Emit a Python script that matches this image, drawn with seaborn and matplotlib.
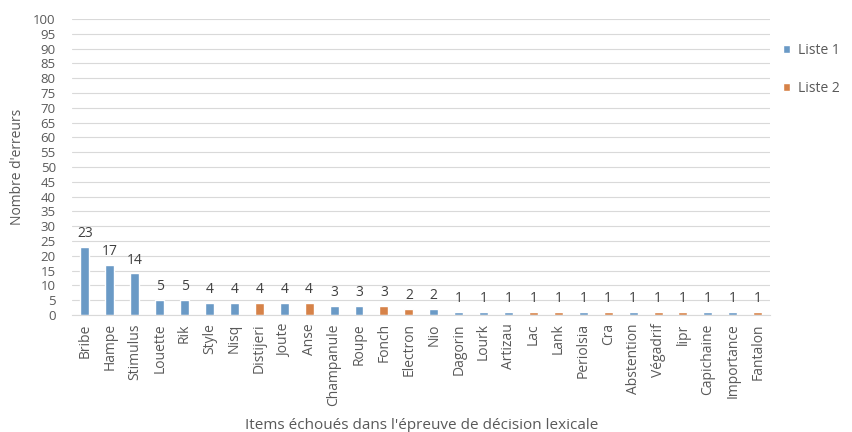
import pandas as pd
import matplotlib
matplotlib.use('Agg')
import matplotlib.pyplot as plt
import seaborn as sns

# Données
items = ['Bribe', 'Hampe', 'Stimulus', 'Louette', 'Rik', 'Style', 'Nisq', 'Distijeri',
         'Joute', 'Anse', 'Champanule', 'Roupe', 'Fonch', 'Electron', 'Nio', 'Dagorin',
         'Lourk', 'Artizau', 'Lac', 'Lank', 'Periolsia', 'Cra', 'Abstention', 'Végadrif',
         'lipr', 'Capichaine', 'Importance', 'Fantalon']
erreurs = [23, 17, 14, 5, 5, 4, 4, 4, 4, 4, 3, 3, 3, 2, 2, 1, 1, 1, 1, 1, 1, 1, 1, 1,
           1, 1, 1, 1]
listes = ['Liste 1', 'Liste 1', 'Liste 1', 'Liste 1', 'Liste 1', 'Liste 1', 'Liste 1',
          'Liste 2', 'Liste 1', 'Liste 2', 'Liste 1', 'Liste 1', 'Liste 2', 'Liste 2',
          'Liste 1', 'Liste 1', 'Liste 1', 'Liste 1', 'Liste 2', 'Liste 2', 'Liste 1',
          'Liste 2', 'Liste 1', 'Liste 2', 'Liste 2', 'Liste 1', 'Liste 1', 'Liste 2']

data = pd.DataFrame({'item': items, 'erreurs': erreurs, 'liste': listes})

sns.set_style('white')
plt.rcParams['font.family'] = ['Open Sans', 'DejaVu Sans']

fig = plt.figure(figsize=(8.52, 4.32), dpi=100)
ax = fig.add_axes([0.085, 0.271, 0.819, 0.685])

sns.barplot(data=data, x='item', y='erreurs', hue='liste', dodge=False,
            palette={'Liste 1': '#5B9BD5', 'Liste 2': '#ED7D31'},
            width=0.36, ax=ax, legend=True)

for i, v in enumerate(erreurs):
    ax.text(i, v + 2, str(v), ha='center', va='bottom', fontsize=10, color='#404040')

ax.set_ylim(0, 100)
ax.set_xlim(-0.5, len(items) - 0.5)
ax.set_yticks(range(0, 101, 5))
ax.yaxis.grid(True, color='#D9D9D9', linewidth=0.8)
ax.set_axisbelow(True)
for s in ['top', 'right', 'left']:
    ax.spines[s].set_visible(False)
ax.spines['bottom'].set_color('#D9D9D9')
ax.tick_params(axis='both', length=0, colors='#595959')
ax.tick_params(axis='y', labelsize=9.5, pad=12)
ax.tick_params(axis='x', labelsize=10, pad=6)
plt.setp(ax.get_xticklabels(), rotation=90)

ax.set_xlabel("Items échoués dans l'épreuve de décision lexicale", fontsize=11,
              color='#595959', labelpad=9)
ax.set_ylabel("Nombre d'erreurs", fontsize=10, color='#595959', labelpad=6)

ax.legend(loc='upper left', bbox_to_anchor=(1.0, 0.96), frameon=False, fontsize=10,
          handlelength=0.5, handleheight=0.5, handletextpad=0.6, labelspacing=1.6,
          labelcolor='#595959')

fig.savefig('out.png', dpi=100)
